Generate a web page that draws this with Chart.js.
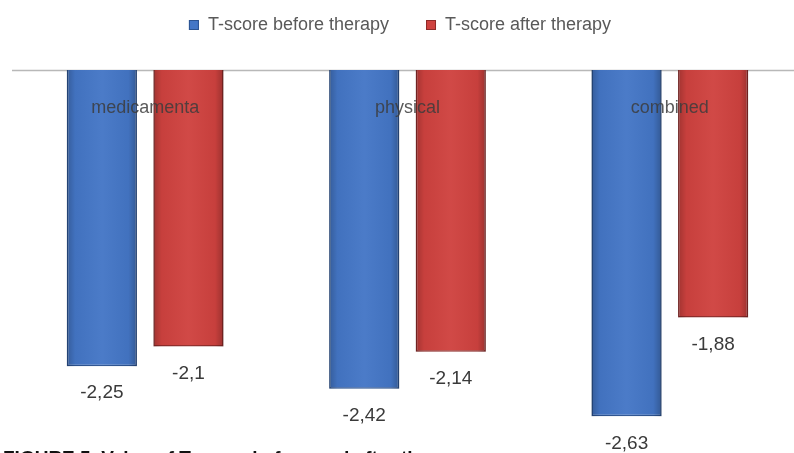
<!DOCTYPE html>
<html>
<head>
<meta charset="utf-8">
<script src="https://cdn.jsdelivr.net/npm/chart.js@4/dist/chart.umd.min.js"></script>
<style>
  html, body { margin: 0; padding: 0; background: #fff; }
  body { width: 794px; height: 453px; overflow: hidden; position: relative; }
  #wrap { position: absolute; left: 0; top: 0; width: 820px; height: 480px; }
  #caption {
    position: absolute; left: 3px; top: 447px; margin: 0;
    font: bold 19px "Liberation Sans", Arial, sans-serif; color: #111;
    white-space: nowrap;
  }
</style>
</head>
<body>
<div id="wrap"><canvas id="c" width="820" height="480"></canvas></div>
<p id="caption">FIGURE 5. Value of T-score before and after therapy</p>
<script>
// Therapy groups and mean T-scores
const categories = ["medicamenta", "physical", "combined"];
const beforeTherapy = [-2.25, -2.42, -2.63];
const afterTherapy = [-2.1, -2.14, -1.88];
const seriesNames = ["T-score before therapy", "T-score after therapy"];

const fmt = v => String(v).replace('.', ',');

const decor = {
  id: 'decor',
  beforeDatasetsDraw(chart) {
    const { ctx, scales: { y } } = chart;
    const y0 = Math.round(y.getPixelForValue(0)) + 0.5;
    ctx.save();
    ctx.strokeStyle = '#b8b8b8';
    ctx.lineWidth = 1.5;
    ctx.beginPath();
    ctx.moveTo(12, y0);
    ctx.lineTo(chart.width, y0);
    ctx.stroke();

    // legend
    ctx.font = '18px "Liberation Sans", Arial, sans-serif';
    ctx.textBaseline = 'middle';
    const items = chart.data.datasets.map(d => ({ text: d.label, color: d.backgroundColor, border: d.borderColor }));
    const box = 10, gapBox = 9, gapItem = 37;
    let total = 0;
    items.forEach((it, i) => {
      it.w = ctx.measureText(it.text).width;
      total += box + gapBox + it.w + (i ? gapItem : 0);
    });
    let x = 400 - total / 2;
    const ly = 25;
    items.forEach((it, i) => {
      if (i) x += gapItem;
      ctx.fillStyle = it.color;
      ctx.fillRect(x, ly - 5, box, box);
      ctx.strokeStyle = it.border;
      ctx.lineWidth = 1;
      ctx.strokeRect(x + 0.5, ly - 4.5, box - 1, box - 1);
      x += box + gapBox;
      ctx.fillStyle = '#595959';
      ctx.textAlign = 'left';
      ctx.fillText(it.text, x, ly);
      x += it.w;
    });
    ctx.restore();
  },
  afterDatasetsDraw(chart) {
    const { ctx, scales: { x, y } } = chart;
    ctx.save();
    // soft shading toward the bar edges
    chart.data.datasets.forEach((ds, di) => {
      chart.getDatasetMeta(di).data.forEach(bar => {
        const l = bar.x - bar.width / 2, r = bar.x + bar.width / 2;
        const top = Math.min(bar.y, bar.base), h = Math.abs(bar.y - bar.base);
        const g = ctx.createLinearGradient(l, 0, r, 0);
        g.addColorStop(0, 'rgba(0,0,0,0.22)');
        g.addColorStop(0.12, 'rgba(0,0,0,0.04)');
        g.addColorStop(0.5, 'rgba(255,255,255,0.04)');
        g.addColorStop(0.88, 'rgba(0,0,0,0.04)');
        g.addColorStop(1, 'rgba(0,0,0,0.25)');
        ctx.fillStyle = g;
        ctx.fillRect(l, top, bar.width, h);
      });
    });
    ctx.textAlign = 'center';
    ctx.textBaseline = 'middle';
    // category names inside the bars
    ctx.font = '18px "Liberation Sans", Arial, sans-serif';
    ctx.fillStyle = 'rgba(60,60,60,0.85)';
    categories.forEach((c, i) => {
      ctx.fillText(c, x.getPixelForValue(i), y.getPixelForValue(0) + 38);
    });
    // value labels under each bar
    ctx.font = '19px "Liberation Sans", Arial, sans-serif';
    ctx.fillStyle = '#3a3a3a';
    chart.data.datasets.forEach((ds, di) => {
      chart.getDatasetMeta(di).data.forEach((bar, i) => {
        ctx.fillText(fmt(ds.data[i]), bar.x, bar.y + 27);
      });
    });
    ctx.restore();
  }
};

new Chart(document.getElementById('c'), {
  type: 'bar',
  data: {
    labels: categories,
    datasets: [
      { label: seriesNames[0], data: beforeTherapy, backgroundColor: '#4476C6', borderColor: '#2C5391', borderWidth: 1.5 },
      { label: seriesNames[1], data: afterTherapy, backgroundColor: '#CF423F', borderColor: '#8F2B29', borderWidth: 1.5 }
    ]
  },
  options: {
    responsive: false,
    animation: false,
    layout: { padding: { left: 14, right: 19, top: 70, bottom: 15 } },
    categoryPercentage: 0.66,
    barPercentage: 0.81,
    plugins: { legend: { display: false }, tooltip: { enabled: false } },
    scales: {
      x: { display: false },
      y: { display: false, min: -3, max: 0 }
    }
  },
  plugins: [decor]
});
</script>
</body>
</html>
